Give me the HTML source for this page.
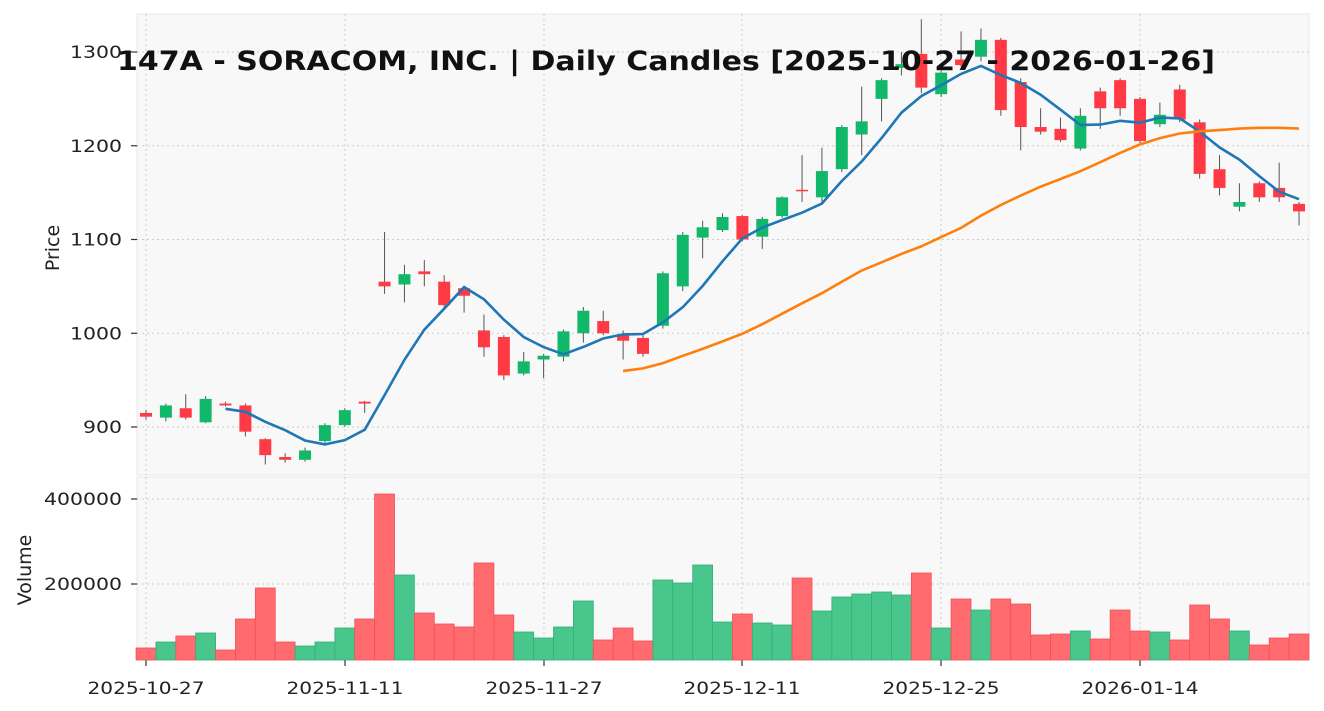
<!DOCTYPE html>
<html><head><meta charset="utf-8"><style>
html,body{margin:0;padding:0;background:#fff;}
svg{display:block;font-family:"DejaVu Sans","Liberation Sans",sans-serif;}
</style></head><body>
<svg id="s" width="1324" height="711" xmlns="http://www.w3.org/2000/svg"></svg>
<script>
const d=[[915,918,908,911],[910,925,906,923],[920,935,908,910],[905,933,904,930],[925,927,922,923],[923,925,890,895],[887,888,860,870],[868,872,862,865],[865,878,863,875],[885,904,880,902],[902,920,900,918],[927,928,915,925],
[1055,1108,1042,1050],[1052,1073,1033,1063],[1066,1078,1050,1063],[1055,1062,1028,1030],[1048,1050,1022,1040],[1003,1020,975,985],[996,998,950,955],[957,980,955,970],[972,978,952,976],[975,1004,970,1002],[1000,1028,990,1024],[1013,1024,998,1000],[998,1003,972,992],[995,998,975,978],
[1008,1066,1005,1064],[1050,1108,1045,1105],[1102,1120,1080,1113],[1110,1128,1108,1124],[1125,1126,1098,1100],[1103,1124,1090,1122],[1125,1146,1123,1145],[1153,1190,1140,1152],[1145,1198,1140,1173],[1175,1222,1172,1220],[1212,1263,1190,1226],[1250,1272,1226,1270],[1283,1300,1275,1287],[1298,1335,1256,1262],[1255,1280,1252,1278],[1292,1322,1284,1286],[1295,1325,1290,1313],
[1313,1315,1232,1238],[1268,1272,1195,1220],[1220,1240,1212,1215],[1218,1230,1204,1206],[1197,1240,1195,1232],[1258,1262,1218,1240],[1270,1272,1232,1240],[1250,1252,1202,1205],[1223,1246,1220,1233],[1260,1265,1225,1228],[1225,1228,1165,1170],[1175,1190,1147,1155],[1135,1160,1130,1140],[1160,1162,1140,1145],[1155,1182,1140,1145],[1138,1140,1115,1130]];
const vy=[648,642,636,633,650,619,588,642,646,642,628,619,494,575,613,624,627,563,615,632,638,627,601,640,628,641,580,583,565,622,614,623,625,578,611,597,594,592,595,573,628,599,610,599,604,635,634,631,639,610,631,632,640,605,619,631,645,638,634];
const X=i=>146+19.88*i, Y=p=>427-(p-900)*0.9375;
let h='';
h+='<rect x="137" y="14" width="1172" height="461" fill="#f8f8f8" stroke="#e8e8e8"/>';
h+='<rect x="137" y="477" width="1172" height="183" fill="#f8f8f8" stroke="#e8e8e8"/>';
const tx=[[146,'2025-10-27'],[345,'2025-11-11'],[544,'2025-11-27'],[742,'2025-12-11'],[941,'2025-12-25'],[1140,'2026-01-14']];
for(const [x,t] of tx){h+=`<line x1="${x}" y1="14" x2="${x}" y2="475" stroke="#ccc" stroke-dasharray="2,3"/><line x1="${x}" y1="477" x2="${x}" y2="660" stroke="#ccc" stroke-dasharray="2,3"/><line x1="${x}" y1="660" x2="${x}" y2="666" stroke="#333" stroke-width="1.2"/><text x="${x}" y="694" font-size="17" text-anchor="middle" fill="#222" textLength="117" lengthAdjust="spacingAndGlyphs">${t}</text>`;}
for(const p of [900,1000,1100,1200,1300]){const y=Y(p);h+=`<line x1="137" y1="${y}" x2="1309" y2="${y}" stroke="#ccc" stroke-dasharray="2,3"/><line x1="131" y1="${y}" x2="137" y2="${y}" stroke="#333" stroke-width="1.2"/><text x="122" y="${y+6}" font-size="17" text-anchor="end" fill="#222" textLength="${p<1000?39:52}" lengthAdjust="spacingAndGlyphs">${p}</text>`;}
for(const [v,y] of [[200000,584],[400000,499]]){h+=`<line x1="137" y1="${y}" x2="1309" y2="${y}" stroke="#ccc" stroke-dasharray="2,3"/><line x1="131" y1="${y}" x2="137" y2="${y}" stroke="#333" stroke-width="1.2"/><text x="122" y="${y+6}" font-size="17" text-anchor="end" fill="#222" textLength="78" lengthAdjust="spacingAndGlyphs">${v}</text>`;}
d.forEach((c,i)=>{const up=c[3]>=c[0];const x=X(i);
h+=`<rect x="${x-9.94}" y="${vy[i]}" width="19.88" height="${660-vy[i]}" fill="${up?'#49c68c':'#ff6b6f'}" stroke="${up?'#2fb078':'#f05058'}" stroke-width="0.8"/>`;
h+=`<line x1="${x}" y1="${Y(c[1])}" x2="${x}" y2="${Y(c[2])}" stroke="#555" stroke-width="1"/>`;
const t=Y(Math.max(c[0],c[3])),b=Y(Math.min(c[0],c[3]));h+=`<rect x="${x-6}" y="${t}" width="12" height="${Math.max(b-t,1.5)}" fill="${up?'#11b86a':'#ff3a45'}"/>`;});
function ma(n,col){let pts=[];for(let i=n-1;i<d.length;i++){let s=0;for(let k=i-n+1;k<=i;k++)s+=d[k][3];pts.push(X(i).toFixed(1)+','+Y(s/n).toFixed(1));}return `<polyline points="${pts.join(' ')}" fill="none" stroke="${col}" stroke-width="2.6"/>`;}
h+=ma(5,'#1f77b4');h+=ma(25,'#ff7f0e');
h+='<text x="117" y="70" font-size="27" font-weight="bold" fill="#111" textLength="1098" lengthAdjust="spacingAndGlyphs">147A - SORACOM, INC. | Daily Candles [2025-10-27 - 2026-01-26]</text>';
h+='<text transform="translate(59,248) rotate(-90)" font-size="19" text-anchor="middle" fill="#222">Price</text>';
h+='<text transform="translate(31,570) rotate(-90)" font-size="19" text-anchor="middle" fill="#222">Volume</text>';
document.getElementById('s').innerHTML=h;
</script>
</body></html>
